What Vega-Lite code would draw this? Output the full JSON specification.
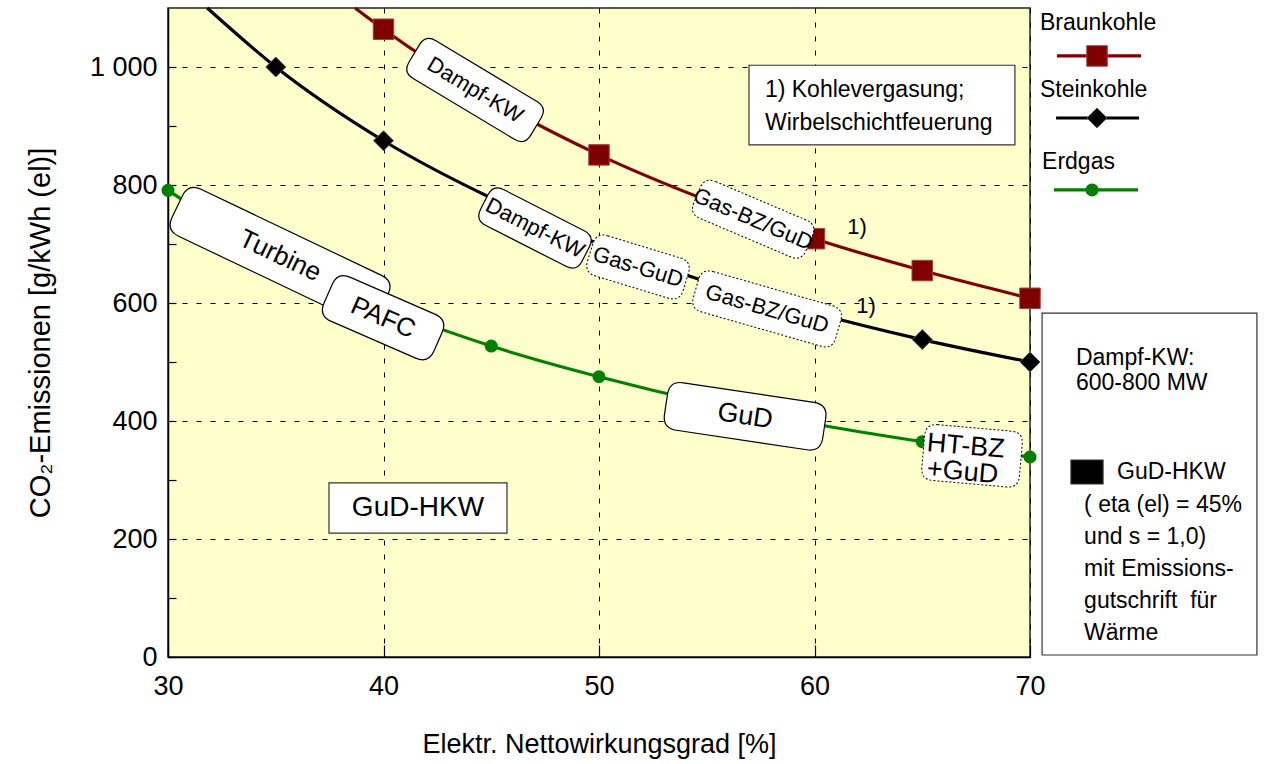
{
  "$schema": "https://vega.github.io/schema/vega-lite/v6.json",
  "width": 862,
  "height": 649,
  "autosize": {"type": "none"},
  "padding": {"left": 168, "top": 8, "right": 236, "bottom": 107},
  "background": "white",
  "config": {
    "font": "Liberation Sans",
    "view": {"fill": "#FFFFCC", "stroke": "#222222", "strokeWidth": 1.5},
    "text": {"color": "black", "font": "Liberation Sans"}
  },
  "datasets": {
    "curves": [
      {"s": "Braunkohle", "x": 38.68, "y": 1100},
      {"s": "Braunkohle", "x": 40, "y": 1064},
      {"s": "Braunkohle", "x": 45, "y": 946},
      {"s": "Braunkohle", "x": 50, "y": 851},
      {"s": "Braunkohle", "x": 55, "y": 774},
      {"s": "Braunkohle", "x": 60, "y": 709},
      {"s": "Braunkohle", "x": 65, "y": 655},
      {"s": "Braunkohle", "x": 70, "y": 608},
      {"s": "Steinkohle", "x": 31.82, "y": 1100},
      {"s": "Steinkohle", "x": 35, "y": 1000},
      {"s": "Steinkohle", "x": 40, "y": 875},
      {"s": "Steinkohle", "x": 45, "y": 778},
      {"s": "Steinkohle", "x": 50, "y": 700},
      {"s": "Steinkohle", "x": 55, "y": 636},
      {"s": "Steinkohle", "x": 60, "y": 583},
      {"s": "Steinkohle", "x": 65, "y": 538},
      {"s": "Steinkohle", "x": 70, "y": 500},
      {"s": "Erdgas", "x": 30, "y": 791},
      {"s": "Erdgas", "x": 35, "y": 678},
      {"s": "Erdgas", "x": 40, "y": 593},
      {"s": "Erdgas", "x": 45, "y": 527},
      {"s": "Erdgas", "x": 50, "y": 475},
      {"s": "Erdgas", "x": 55, "y": 431},
      {"s": "Erdgas", "x": 60, "y": 395},
      {"s": "Erdgas", "x": 65, "y": 365},
      {"s": "Erdgas", "x": 70, "y": 339}
    ],
    "marks": [
      {"s": "Braunkohle", "x": 40, "y": 1064},
      {"s": "Braunkohle", "x": 50, "y": 851},
      {"s": "Braunkohle", "x": 60, "y": 709},
      {"s": "Braunkohle", "x": 65, "y": 655},
      {"s": "Braunkohle", "x": 70, "y": 608},
      {"s": "Braunkohle", "x": 73.11, "y": 1018.7},
      {"s": "Steinkohle", "x": 35, "y": 1000},
      {"s": "Steinkohle", "x": 40, "y": 875},
      {"s": "Steinkohle", "x": 65, "y": 538},
      {"s": "Steinkohle", "x": 70, "y": 500},
      {"s": "Steinkohle", "x": 73.11, "y": 913.6},
      {"s": "Erdgas", "x": 30, "y": 791},
      {"s": "Erdgas", "x": 45, "y": 527},
      {"s": "Erdgas", "x": 50, "y": 475},
      {"s": "Erdgas", "x": 65, "y": 365},
      {"s": "Erdgas", "x": 70, "y": 339},
      {"s": "Erdgas", "x": 72.88, "y": 791.6}
    ],
    "legendLine": [
      {"s": "Braunkohle", "x": 71.25, "x2": 75.15, "y": 1018.7},
      {"s": "Steinkohle", "x": 71.21, "x2": 75.06, "y": 913.6},
      {"s": "Erdgas", "x": 71.11, "x2": 75.01, "y": 791.6}
    ],
    "legendText": [
      {"s": "Braunkohle", "x": 70.46, "y": 1074.6},
      {"s": "Steinkohle", "x": 70.46, "y": 961},
      {"s": "Erdgas", "x": 70.56, "y": 839}
    ],
    "boxes": [
      {"id": "hkw", "x": 37.47, "x2": 45.73, "y": 295, "y2": 210},
      {"id": "fn", "x": 56.96, "x2": 69.3, "y": 1003, "y2": 868},
      {"id": "info", "x": 70.56, "x2": 80.53, "y": 583, "y2": 3.4},
      {"id": "sq", "x": 71.9, "x2": 73.39, "y": 333.9, "y2": 293.2}
    ],
    "notes": [
      {"k": "fn", "x": 61.97, "y": 729, "t": "1)"},
      {"k": "fn", "x": 62.39, "y": 595, "t": "1)"},
      {"k": "hkw", "x": 41.6, "y": 252.5, "t": "GuD-HKW"},
      {"k": "txt", "x": 57.7, "y": 961, "t": "1) Kohlevergasung;"},
      {"k": "txt", "x": 57.7, "y": 905, "t": "Wirbelschichtfeuerung"},
      {"k": "txt", "x": 72.13, "y": 506.8, "t": "Dampf-KW:"},
      {"k": "txt", "x": 72.13, "y": 464.4, "t": "600-800 MW"},
      {"k": "txt", "x": 74.04, "y": 313.6, "t": "GuD-HKW"},
      {"k": "txt", "x": 72.51, "y": 257.6, "t": "( eta (el) = 45%"},
      {"k": "txt", "x": 72.51, "y": 203.4, "t": "und s = 1,0)"},
      {"k": "txt", "x": 72.51, "y": 149.2, "t": "mit Emissions-"},
      {"k": "txt", "x": 72.51, "y": 94.9, "t": "gutschrift\u00a0 für"},
      {"k": "txt", "x": 72.51, "y": 40.7, "t": "Wärme"}
    ],
    "tags": [
      {"id": "dkB", "x": 44.25, "y": 961, "t": "Dampf-KW"},
      {"id": "dkS", "x": 47.03, "y": 727, "t": "Dampf-KW"},
      {"id": "gg", "x": 51.81, "y": 661, "t": "Gas-GuD"},
      {"id": "gbB", "x": 57.15, "y": 742, "t": "Gas-BZ/GuD"},
      {"id": "gbS", "x": 57.8, "y": 590, "t": "Gas-BZ/GuD"},
      {"id": "tu", "x": 35.2, "y": 680, "t": "Turbine"},
      {"id": "pa", "x": 39.98, "y": 575, "t": "PAFC"},
      {"id": "gud", "x": 56.78, "y": 408, "t": "GuD"},
      {"id": "ht", "x": 67.31, "y": 341, "t": ""},
      {"id": "ht1", "x": 65.22, "y": 362.7, "t": "HT-BZ"},
      {"id": "ht2", "x": 65.22, "y": 318.7, "t": "+GuD"}
    ]
  },
  "encoding": {
    "x": {
      "field": "x",
      "type": "quantitative",
      "title": "Elektr. Nettowirkungsgrad [%]",
      "scale": {"domain": [30, 70], "nice": false, "zero": false},
      "axis": {
        "values": [30, 40, 50, 60, 70],
        "labelFlush": false,
        "grid": true,
        "gridDash": [5, 9],
        "gridColor": "black",
        "gridWidth": 1,
        "tickSize": -12,
        "tickColor": "black",
        "tickWidth": 1.2,
        "domainColor": "black",
        "domainWidth": 1.5,
        "labelFontSize": 27,
        "labelColor": "black",
        "labelPadding": 28,
        "labelFont": "Liberation Sans",
        "titleFont": "Liberation Sans",
        "titleFontSize": 27,
        "titleFontWeight": "normal",
        "titleColor": "black",
        "titlePadding": 32
      }
    },
    "y": {
      "field": "y",
      "type": "quantitative",
      "title": "CO₂-Emissionen [g/kWh (el)]",
      "scale": {"domain": [0, 1100], "nice": false, "zero": true},
      "axis": {
        "values": [0, 100, 200, 300, 400, 500, 600, 700, 800, 900, 1000],
        "labelFlush": false,
        "grid": true,
        "gridDash": [5, 9],
        "gridColor": "black",
        "gridWidth": 1,
        "gridOpacity": {"condition": {"test": "datum.value % 200 === 0", "value": 1}, "value": 0},
        "labelExpr": "datum.value % 200 === 0 ? (datum.value === 1000 ? '1 000' : datum.label) : ''",
        "tickSize": -8,
        "tickColor": "black",
        "tickWidth": 1.2,
        "domainColor": "black",
        "domainWidth": 1.5,
        "labelFontSize": 27,
        "labelColor": "black",
        "labelPadding": 19,
        "labelFont": "Liberation Sans",
        "titleFont": "Liberation Sans",
        "titleFontSize": 29,
        "titleFontWeight": "normal",
        "titleColor": "black",
        "titlePadding": 34
      }
    }
  },
  "layer": [
    {
      "data": {"name": "boxes"},
      "mark": {"type": "rect", "stroke": "#333333", "strokeWidth": 1.2},
      "encoding": {
        "x2": {"field": "x2"},
        "y2": {"field": "y2"},
        "fill": {"condition": {"test": "datum.id === 'sq'", "value": "black"}, "value": "white"}
      }
    },
    {
      "data": {"name": "curves"},
      "mark": {"type": "line", "interpolate": "monotone", "strokeWidth": 3.2},
      "encoding": {
        "color": {"field": "s", "type": "nominal", "scale": {"domain": ["Braunkohle", "Steinkohle", "Erdgas"], "range": ["#800000", "#000000", "#008000"]}, "legend": null}
      }
    },
    {
      "data": {"name": "legendLine"},
      "mark": {"type": "rule", "strokeWidth": 3.2},
      "encoding": {
        "x2": {"field": "x2"},
        "color": {"field": "s", "type": "nominal", "scale": {"domain": ["Braunkohle", "Steinkohle", "Erdgas"], "range": ["#800000", "#000000", "#008000"]}, "legend": null}
      }
    },
    {
      "data": {"name": "legendText"},
      "mark": {"type": "text", "align": "left", "baseline": "middle", "fontSize": 23},
      "encoding": {"text": {"field": "s"}}
    },
    {
      "data": {"name": "marks"},
      "transform": [{"filter": "datum.s === 'Braunkohle'"}],
      "mark": {"type": "point", "shape": "square", "filled": true, "size": 420, "fill": "#800000", "stroke": "#a04040", "strokeWidth": 1, "opacity": 1}
    },
    {
      "data": {"name": "marks"},
      "transform": [{"filter": "datum.s === 'Steinkohle'"}],
      "mark": {"type": "point", "shape": "diamond", "filled": true, "size": 400, "fill": "black", "stroke": "#555555", "strokeWidth": 1, "opacity": 1}
    },
    {
      "data": {"name": "marks"},
      "transform": [{"filter": "datum.s === 'Erdgas'"}],
      "mark": {"type": "point", "shape": "circle", "filled": true, "size": 170, "fill": "#008000", "opacity": 1}
    },
    {
      "data": {"name": "tags"},
      "transform": [{"filter": "datum.id === 'dkB'"}],
      "layer": [
        {"mark": {"type": "point", "shape": "M -1.18 -0.44 L 1.18 -0.44 Q 1.42 -0.44 1.42 -0.2 L 1.42 0.2 Q 1.42 0.44 1.18 0.44 L -1.18 0.44 Q -1.42 0.44 -1.42 0.2 L -1.42 -0.2 Q -1.42 -0.44 -1.18 -0.44 Z", "size": 10000, "angle": 31, "filled": true, "fill": "white", "stroke": "black", "strokeWidth": 1.2, "opacity": 1}},
        {"mark": {"type": "text", "angle": 31, "fontSize": 22, "align": "center", "baseline": "middle"}, "encoding": {"text": {"field": "t"}}}
      ]
    },
    {
      "data": {"name": "tags"},
      "transform": [{"filter": "datum.id === 'dkS'"}],
      "layer": [
        {"mark": {"type": "point", "shape": "M -0.9 -0.4 L 0.9 -0.4 Q 1.14 -0.4 1.14 -0.16 L 1.14 0.16 Q 1.14 0.4 0.9 0.4 L -0.9 0.4 Q -1.14 0.4 -1.14 0.16 L -1.14 -0.16 Q -1.14 -0.4 -0.9 -0.4 Z", "size": 10000, "angle": 27, "filled": true, "fill": "white", "stroke": "black", "strokeWidth": 1.2, "opacity": 1}},
        {"mark": {"type": "text", "angle": 27, "fontSize": 22, "align": "center", "baseline": "middle"}, "encoding": {"text": {"field": "t"}}}
      ]
    },
    {
      "data": {"name": "tags"},
      "transform": [{"filter": "datum.id === 'gg'"}],
      "layer": [
        {"mark": {"type": "point", "shape": "M -0.76 -0.42 L 0.76 -0.42 Q 1 -0.42 1 -0.18 L 1 0.18 Q 1 0.42 0.76 0.42 L -0.76 0.42 Q -1 0.42 -1 0.18 L -1 -0.18 Q -1 -0.42 -0.76 -0.42 Z", "size": 10000, "angle": 17, "filled": true, "fill": "white", "stroke": "black", "strokeWidth": 1, "strokeDash": [2, 2], "opacity": 1}},
        {"mark": {"type": "text", "angle": 17, "fontSize": 22, "align": "center", "baseline": "middle"}, "encoding": {"text": {"field": "t"}}}
      ]
    },
    {
      "data": {"name": "tags"},
      "transform": [{"filter": "datum.id === 'gbB'"}],
      "layer": [
        {"mark": {"type": "point", "shape": "M -0.98 -0.4 L 0.98 -0.4 Q 1.22 -0.4 1.22 -0.16 L 1.22 0.16 Q 1.22 0.4 0.98 0.4 L -0.98 0.4 Q -1.22 0.4 -1.22 0.16 L -1.22 -0.16 Q -1.22 -0.4 -0.98 -0.4 Z", "size": 10000, "angle": 23, "filled": true, "fill": "white", "stroke": "black", "strokeWidth": 1, "strokeDash": [2, 2], "opacity": 1}},
        {"mark": {"type": "text", "angle": 23, "fontSize": 22, "align": "center", "baseline": "middle"}, "encoding": {"text": {"field": "t"}}}
      ]
    },
    {
      "data": {"name": "tags"},
      "transform": [{"filter": "datum.id === 'gbS'"}],
      "layer": [
        {"mark": {"type": "point", "shape": "M -1.24 -0.42 L 1.24 -0.42 Q 1.48 -0.42 1.48 -0.18 L 1.48 0.18 Q 1.48 0.42 1.24 0.42 L -1.24 0.42 Q -1.48 0.42 -1.48 0.18 L -1.48 -0.18 Q -1.48 -0.42 -1.24 -0.42 Z", "size": 10000, "angle": 16, "filled": true, "fill": "white", "stroke": "black", "strokeWidth": 1, "strokeDash": [2, 2], "opacity": 1}},
        {"mark": {"type": "text", "angle": 16, "fontSize": 22, "align": "center", "baseline": "middle"}, "encoding": {"text": {"field": "t"}}}
      ]
    },
    {
      "data": {"name": "tags"},
      "transform": [{"filter": "datum.id === 'tu'"}],
      "layer": [
        {"mark": {"type": "point", "shape": "M -2 -0.52 L 2 -0.52 Q 2.28 -0.52 2.28 -0.24 L 2.28 0.24 Q 2.28 0.52 2 0.52 L -2 0.52 Q -2.28 0.52 -2.28 0.24 L -2.28 -0.24 Q -2.28 -0.52 -2 -0.52 Z", "size": 10000, "angle": 25.5, "filled": true, "fill": "white", "stroke": "black", "strokeWidth": 1.2, "opacity": 1}},
        {"mark": {"type": "text", "angle": 25.5, "fontSize": 26, "align": "center", "baseline": "middle"}, "encoding": {"text": {"field": "t"}}}
      ]
    },
    {
      "data": {"name": "tags"},
      "transform": [{"filter": "datum.id === 'pa'"}],
      "layer": [
        {"mark": {"type": "point", "shape": "M -0.92 -0.48 L 0.92 -0.48 Q 1.2 -0.48 1.2 -0.2 L 1.2 0.2 Q 1.2 0.48 0.92 0.48 L -0.92 0.48 Q -1.2 0.48 -1.2 0.2 L -1.2 -0.2 Q -1.2 -0.48 -0.92 -0.48 Z", "size": 10000, "angle": 23.5, "filled": true, "fill": "white", "stroke": "black", "strokeWidth": 1.2, "opacity": 1}},
        {"mark": {"type": "text", "angle": 23.5, "fontSize": 26, "align": "center", "baseline": "middle"}, "encoding": {"text": {"field": "t"}}}
      ]
    },
    {
      "data": {"name": "tags"},
      "transform": [{"filter": "datum.id === 'gud'"}],
      "layer": [
        {"mark": {"type": "point", "shape": "M -1.32 -0.48 L 1.32 -0.48 Q 1.6 -0.48 1.6 -0.2 L 1.6 0.2 Q 1.6 0.48 1.32 0.48 L -1.32 0.48 Q -1.6 0.48 -1.6 0.2 L -1.6 -0.2 Q -1.6 -0.48 -1.32 -0.48 Z", "size": 10000, "angle": 8.5, "filled": true, "fill": "white", "stroke": "black", "strokeWidth": 1.2, "opacity": 1}},
        {"mark": {"type": "text", "angle": 8.5, "fontSize": 27, "align": "center", "baseline": "middle"}, "encoding": {"text": {"field": "t"}}}
      ]
    },
    {
      "data": {"name": "tags"},
      "layer": [
        {"transform": [{"filter": "datum.id === 'ht'"}], "mark": {"type": "point", "shape": "M -0.74 -0.56 L 0.74 -0.56 Q 0.98 -0.56 0.98 -0.32 L 0.98 0.32 Q 0.98 0.56 0.74 0.56 L -0.74 0.56 Q -0.98 0.56 -0.98 0.32 L -0.98 -0.32 Q -0.98 -0.56 -0.74 -0.56 Z", "size": 10000, "angle": 5, "filled": true, "fill": "white", "stroke": "black", "strokeWidth": 1, "strokeDash": [2, 2], "opacity": 1}},
        {"transform": [{"filter": "datum.id === 'ht1' || datum.id === 'ht2'"}], "mark": {"type": "text", "angle": 5, "fontSize": 27, "align": "left", "baseline": "middle"}, "encoding": {"text": {"field": "t"}}}
      ]
    },
    {
      "data": {"name": "notes"},
      "transform": [{"filter": "datum.k === 'fn'"}],
      "mark": {"type": "text", "fontSize": 22, "align": "center", "baseline": "middle"},
      "encoding": {"text": {"field": "t"}}
    },
    {
      "data": {"name": "notes"},
      "transform": [{"filter": "datum.k === 'hkw'"}],
      "mark": {"type": "text", "fontSize": 28, "align": "center", "baseline": "middle"},
      "encoding": {"text": {"field": "t"}}
    },
    {
      "data": {"name": "notes"},
      "transform": [{"filter": "datum.k === 'txt'"}],
      "mark": {"type": "text", "fontSize": 23, "align": "left", "baseline": "middle"},
      "encoding": {"text": {"field": "t"}}
    }
  ]
}
